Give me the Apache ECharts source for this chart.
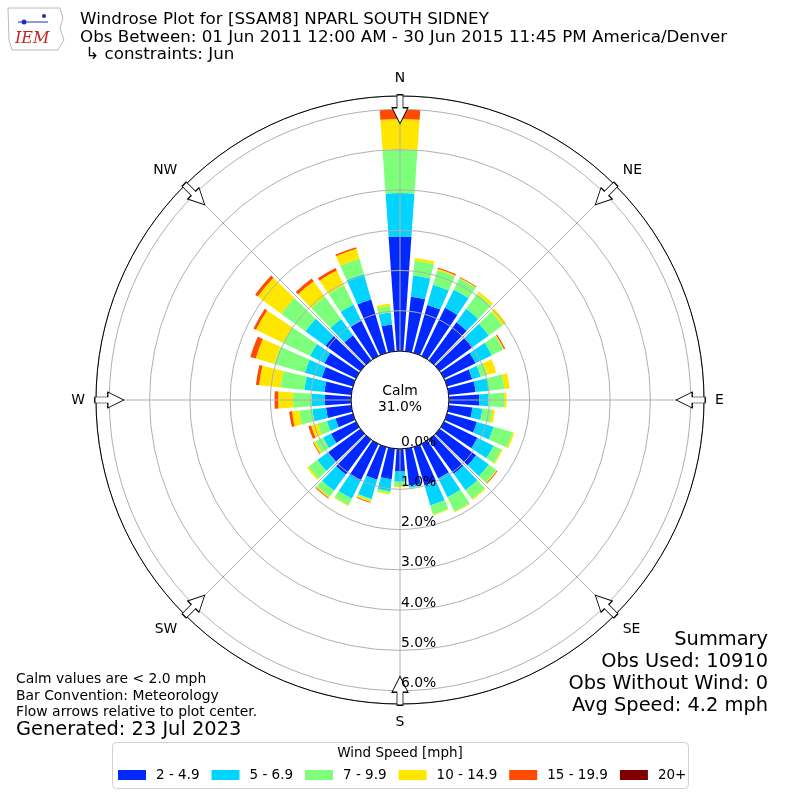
<!DOCTYPE html>
<html>
<head>
<meta charset="utf-8">
<script src="https://cdn.jsdelivr.net/npm/echarts@6/dist/echarts.min.js"></script>
<style>
html,body{margin:0;padding:0;background:#fff;}
#chart{width:800px;height:800px;}
</style>
</head>
<body>
<div id="chart"></div>
<script>
// ---------------- DATA ----------------
const directions = ['0','10','20','30','40','50','60','70','80','90','100','110','120','130','140','150','160','170',
                    '180','190','200','210','220','230','240','250','260','270','280','290','300','310','320','330','340','350'];
const speedBins = ['2 - 4.9', '5 - 6.9', '7 - 9.9', '10 - 14.9', '15 - 19.9', '20+'];
// percent of observations per direction (stacked from the calm circle outward)
const bin_2_49   = [2.84,1.36,1.24,1.33,1.17,1.02,0.87,0.65,0.67,0.75,0.59,0.77,0.92,1.12,1.05,0.95,0.99,0.92,
                    0.56,0.76,0.84,1.02,1.07,0.99,0.69,0.45,0.63,0.65,0.67,0.80,0.87,1.07,0.77,0.97,1.38,0.67];
const bin_5_69   = [1.08,0.53,0.52,0.50,0.41,0.49,0.45,0.22,0.34,0.23,0.25,0.43,0.45,0.39,0.50,0.52,0.52,0.05,
                    0.25,0.30,0.50,0.49,0.50,0.33,0.22,0.22,0.34,0.33,0.50,0.44,0.40,0.62,0.50,0.45,0.66,0.30];
const bin_7_99   = [1.09,0.37,0.38,0.31,0.46,0.43,0.32,0.17,0.38,0.39,0.25,0.49,0.22,0.23,0.27,0.40,0.23,0.02,
                    0.11,0.05,0.04,0.18,0.19,0.28,0.21,0.24,0.33,0.46,0.59,0.79,0.74,0.74,0.69,0.54,0.39,0.16];
const bin_10_149 = [0.75,0.07,0.03,0.02,0.07,0.10,0.02,0.23,0.13,0.06,0.06,0.04,0.03,0.02,0.03,0.02,0.02,0.00,
                    0.03,0.03,0.04,0.02,0.03,0.04,0.05,0.17,0.18,0.37,0.54,0.48,0.75,0.72,0.47,0.40,0.26,0.06];
const bin_15_199 = [0.24,0.00,0.03,0.02,0.00,0.00,0.03,0.00,0.00,0.00,0.00,0.00,0.00,0.02,0.00,0.00,0.00,0.00,
                    0.00,0.00,0.02,0.00,0.02,0.00,0.02,0.07,0.07,0.09,0.08,0.14,0.07,0.08,0.08,0.07,0.04,0.00];
const bin_20p    = [0,0,0,0,0,0,0,0,0,0,0,0,0,0,0,0,0,0,
                    0,0,0,0,0,0,0,0,0,0,0,0,0,0,0,0,0,0];
const binData = [bin_2_49, bin_5_69, bin_7_99, bin_10_149, bin_15_199, bin_20p];
const binColors = ['#0028ff', '#00d4ff', '#7dff7a', '#ffe600', '#ff4a00', '#800000'];

const compassLabels = ['N','NE','E','SE','S','SW','W','NW'];
const compassAngles = [0,45,90,135,180,225,270,315];
const radiusTicksMax = 6.33;   // radial extent in percent
const arrowRadius = 6.0;        // flow arrows sit on the 6% ring area

const calmText = 'Calm\n31.0%';
const titleLines = [
  'Windrose Plot for [SSAM8] NPARL SOUTH SIDNEY',
  'Obs Between: 01 Jun 2011 12:00 AM - 30 Jun 2015 11:45 PM America/Denver',
  ' \u21b3 constraints: Jun'
];
const footLeft = ['Calm values are < 2.0 mph', 'Bar Convention: Meteorology', 'Flow arrows relative to plot center.'];
const generated = 'Generated: 23 Jul 2023';
const summary = ['Summary', 'Obs Used: 10910', 'Obs Without Wind: 0', 'Avg Speed: 4.2 mph'];

// ---------------- CHART ----------------
const FONT = '"DejaVu Sans", sans-serif';
const chart = echarts.init(document.getElementById('chart'), null, {renderer: 'canvas'});
const arrowPath = 'path://M5,0 L11,0 L11,13 L16,13 L8,29 L0,13 L5,13 Z';

const series = speedBins.map((name, i) => ({
  type: 'bar',
  name: name,
  coordinateSystem: 'polar',
  polarIndex: 0,
  stack: 'wind',
  data: binData[i],
  barCategoryGap: '20%',
  itemStyle: {color: binColors[i]},
  z: 2,
  silent: true
}));
series.push({
  type: 'scatter',
  coordinateSystem: 'polar',
  polarIndex: 1,
  symbol: arrowPath,
  symbolSize: [16, 29],
  itemStyle: {color: '#ffffff', borderColor: '#000000', borderWidth: 1, opacity: 1},
  data: compassAngles.map(a => ({value: [arrowRadius, a], symbolRotate: -a})),
  z: 6,
  silent: true
});

const graphics = [];
titleLines.forEach((t, i) => {
  graphics.push({type: 'text', x: 80, y: [20, 38, 55][i], z: 10,
    style: {text: t, fill: '#000', font: '16.7px ' + FONT, verticalAlign: 'middle', align: 'left'}});
});
// simple logo stand-in
graphics.push({type: 'polyline', z: 10, shape: {points: [[8,8],[60,8],[63,18],[60,28],[64,40],[58,50],[12,50],[9,40],[8,8]]},
  style: {stroke: '#b8b8c8', lineWidth: 1, fill: null}});
graphics.push({type: 'text', x: 15, y: 39, z: 10,
  style: {text: 'IEM', fill: '#cc2020', font: 'italic 16px "DejaVu Serif", serif', verticalAlign: 'middle'}});
graphics.push({type: 'polyline', z: 10, shape: {points: [[18,22],[48,22]]}, style: {stroke: '#2030c0', lineWidth: 1}});
graphics.push({type: 'circle', z: 10, shape: {cx: 24, cy: 22, r: 2.5}, style: {fill: '#2030c0'}});
graphics.push({type: 'circle', z: 10, shape: {cx: 44, cy: 16, r: 2}, style: {fill: '#2030c0'}});

graphics.push({type: 'text', x: 400, y: 399, z: 10,
  style: {text: calmText, fill: '#000', font: '13.9px ' + FONT, align: 'center', verticalAlign: 'middle', lineHeight: 16}});

footLeft.forEach((t, i) => {
  graphics.push({type: 'text', x: 16, y: [679, 696, 712][i], z: 10,
    style: {text: t, fill: '#000', font: '13.9px ' + FONT, verticalAlign: 'middle'}});
});
graphics.push({type: 'text', x: 16, y: 730, z: 10,
  style: {text: generated, fill: '#000', font: '19.4px ' + FONT, verticalAlign: 'middle'}});
summary.forEach((t, i) => {
  graphics.push({type: 'text', x: 768, y: [640, 662, 684, 706][i], z: 10,
    style: {text: t, fill: '#000', font: '19.4px ' + FONT, align: 'right', verticalAlign: 'middle'}});
});
// legend frame + title
graphics.push({type: 'rect', z: 1, shape: {x: 112.5, y: 742.5, width: 576, height: 46, r: 4},
  style: {fill: '#ffffff', stroke: '#d0d0d0', lineWidth: 1}});
graphics.push({type: 'text', x: 400, y: 753, z: 10,
  style: {text: 'Wind Speed [mph]', fill: '#000', font: '13.5px ' + FONT, align: 'center', verticalAlign: 'middle'}});

const option = {
  animation: false,
  backgroundColor: '#ffffff',
  polar: [
    {center: [400, 400], radius: [49, 304]},
    {center: [400, 400], radius: [49, 304]},
    {center: [400, 400], radius: [49, 304]}
  ],
  angleAxis: [
    {polarIndex: 0, type: 'category', data: directions, startAngle: 95, clockwise: true, boundaryGap: true, show: false},
    {polarIndex: 1, type: 'value', min: 0, max: 360, interval: 45, startAngle: 90, clockwise: true, z: 4,
      axisLine: {show: true, lineStyle: {color: '#000000', width: 1}},
      axisTick: {show: false},
      splitLine: {show: true, lineStyle: {color: '#b0b0b0', width: 1}},
      axisLabel: {show: true, margin: 11, color: '#000', fontSize: 13.9, fontFamily: FONT,
        formatter: v => { const k = compassAngles.indexOf(v); return (k >= 0 && v < 360) ? compassLabels[k] : ''; }}},
    {polarIndex: 2, type: 'value', min: 0, max: 360, startAngle: 270, clockwise: true, show: false}
  ],
  radiusAxis: [
    {polarIndex: 0, type: 'value', min: 0, max: radiusTicksMax, show: false},
    {polarIndex: 1, type: 'value', min: 0, max: radiusTicksMax, interval: 1, z: 3,
      axisLine: {show: false}, axisTick: {show: false}, axisLabel: {show: false},
      splitLine: {show: true, lineStyle: {color: '#b0b0b0', width: 1}}},
    {polarIndex: 2, type: 'value', min: 0, max: radiusTicksMax, interval: 1, z: 7,
      axisLine: {show: false}, axisTick: {show: false}, splitLine: {show: false},
      axisLabel: {show: true, margin: 1, color: '#000', fontSize: 13.9, fontFamily: FONT,
        align: 'left', verticalAlign: 'bottom',
        formatter: v => (Math.abs(v - Math.round(v)) < 1e-9) ? v.toFixed(1) + '%' : ''}}
  ],
  legend: {
    data: speedBins,
    left: 113, top: 763,
    orient: 'horizontal',
    icon: 'rect',
    itemWidth: 28, itemHeight: 10, itemGap: 12,
    selectedMode: false,
    textStyle: {color: '#000', fontSize: 13.5, fontFamily: FONT, padding: [0, 0, 0, 5]}
  },
  graphic: graphics,
  series: series
};
chart.setOption(option);
</script>
</body>
</html>
